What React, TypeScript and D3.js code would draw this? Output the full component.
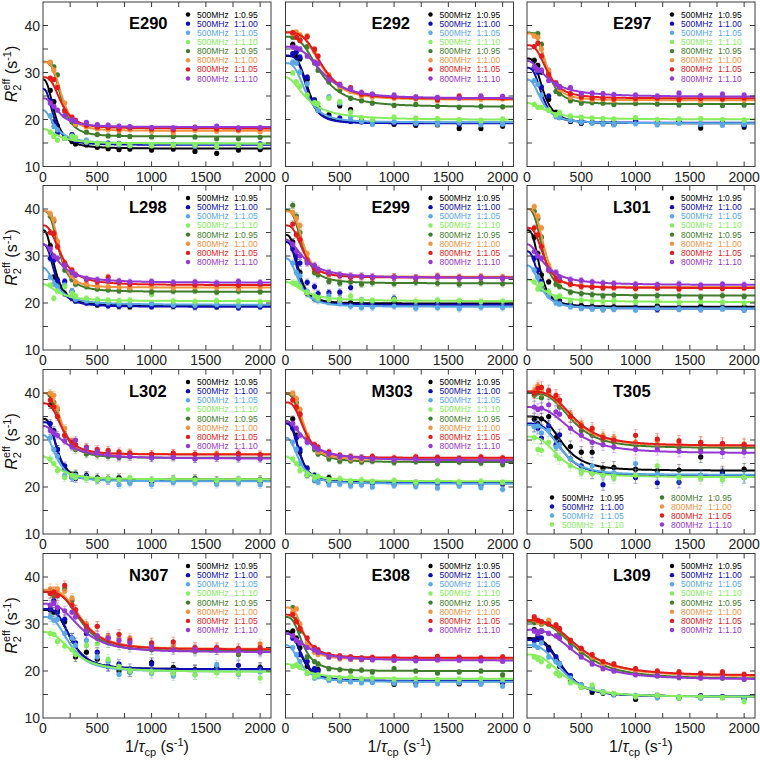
import React from "react";
import * as d3 from "d3";

// ---------- data ----------
const X_VALUES = [67, 100, 133, 200, 267, 300, 400, 500, 600, 700, 800, 1000, 1200, 1400, 1600, 1800, 2000];
const FIELDS = ["500MHz", "500MHz", "500MHz", "500MHz", "800MHz", "800MHz", "800MHz", "800MHz"];
const RATIOS = ["1:0.95", "1:1.00", "1:1.05", "1:1.10", "1:0.95", "1:1.00", "1:1.05", "1:1.10"];
const PANEL_NAMES = ["E290", "E292", "E297", "L298", "E299", "L301", "L302", "M303", "T305", "N307", "E308", "L309"];
const X_TICKS = [0, 500, 1000, 1500, 2000];
const Y_TICKS = [10, 20, 30, 40];
const PANEL_ERRORS = [0.4, 0.5, 0.5, 0.6, 0.7, 0.6, 0.8, 0.6, 1.2, 1.0, 0.5, 0.5];

// fits: [R2 plateau, R2 at 0, midpoint, steepness]
const E290_POINTS = [
  [26.2, 23.8, 18.6, 16.0, 15.3, 14.8, 14.6, 14.1, 13.8, 13.6, 13.7, 13.5, 13.7, 13.2, 12.8, 13.5, 13.6],
  [24.0, 19.5, 17.2, 16.2, 16.8, 15.6, 15.0, 14.8, 15.0, 14.9, 14.6, 14.4, 14.7, 14.5, 14.6, 14.4, 14.8],
  [20.8, 18.5, 17.8, 16.0, 16.5, 15.8, 15.6, 15.0, 14.7, 14.6, 14.4, 14.5, 14.6, 14.3, 14.2, 14.5, 14.2],
  [17.3, 16.4, 15.6, 16.0, 16.4, 16.2, 15.2, 14.8, 14.6, 14.8, 14.5, 14.4, 14.5, 14.6, 14.3, 14.5, 14.4],
  [32.0, 31.2, 29.5, 22.0, 19.5, 18.9, 17.3, 16.8, 16.5, 16.6, 16.4, 16.3, 16.4, 16.3, 15.9, 15.9, 16.2],
  [32.2, 30.5, 27.2, 23.5, 20.0, 19.0, 18.4, 18.0, 17.8, 17.6, 17.8, 17.5, 17.2, 17.7, 17.5, 17.6, 17.4],
  [28.8, 28.5, 26.8, 21.8, 20.5, 19.8, 18.8, 18.4, 18.3, 18.0, 18.2, 18.0, 17.8, 18.1, 18.0, 17.9, 18.1],
  [23.5, 22.8, 22.0, 20.8, 20.0, 19.6, 19.4, 18.9, 18.8, 18.6, 18.5, 18.3, 18.2, 18.4, 18.6, 18.2, 18.3],
];
const E290_FITS = [
  [13.8, 28.5, 110, 2.5], [14.6, 26.5, 100, 2.5], [14.8, 22, 120, 2], [14.9, 18, 150, 2],
  [16.4, 32.3, 170, 3.5], [17.6, 32.2, 175, 3.5], [18.1, 29, 170, 3], [18.4, 24.5, 150, 2.5],
];

const E292_POINTS = [
  [36.0, 33.4, 32.9, 28.5, 24.0, 22.6, 21.0, 22.9, 22.1, 19.8, 19.2, 19.0, 18.8, 18.9, 18.1, 18.1, 18.6],
  [34.0, 34.4, 33.3, 29.0, 24.2, 22.0, 20.5, 20.3, 19.6, 19.5, 19.4, 19.3, 19.1, 19.3, 19.0, 19.2, 19.1],
  [32.2, 32.0, 30.1, 27.6, 23.5, 22.0, 24.8, 23.5, 20.5, 19.6, 19.0, 19.5, 19.2, 19.0, 19.3, 18.9, 19.0],
  [29.9, 28.0, 27.1, 25.2, 23.6, 23.4, 24.5, 23.8, 21.6, 20.4, 20.0, 20.5, 20.3, 20.2, 20.0, 19.8, 20.1],
  [37.5, 37.8, 37.0, 35.5, 32.0, 30.5, 28.0, 26.2, 24.5, 24.0, 23.5, 23.0, 23.2, 22.8, 22.6, 22.8, 22.7],
  [38.3, 38.6, 38.0, 37.8, 34.5, 32.0, 29.5, 27.0, 26.0, 25.0, 24.8, 24.5, 24.4, 24.0, 24.6, 24.3, 24.4],
  [38.5, 37.5, 36.8, 37.6, 35.0, 33.5, 29.0, 27.5, 26.8, 25.4, 25.2, 24.8, 24.6, 24.2, 25.0, 24.8, 24.6],
  [35.4, 35.2, 35.0, 33.5, 32.2, 31.9, 28.5, 27.4, 26.5, 25.8, 25.4, 25.2, 24.8, 24.7, 24.6, 25.0, 24.9],
];
const E292_FITS = [
  [19.3, 33.5, 210, 4], [19.2, 33.6, 200, 4], [19.4, 32, 190, 3], [19.9, 29, 200, 2],
  [22.7, 37.6, 320, 3], [24.2, 38.6, 330, 3.5], [24.4, 38.5, 340, 3.5], [24.5, 35.5, 340, 3],
];

const E297_POINTS = [
  [32.6, 31.5, 30.1, 24.3, 21.5, 20.5, 19.6, 19.2, 19.4, 19.3, 19.0, 19.6, 19.3, 19.5, 18.2, 19.2, 18.4],
  [31.0, 30.1, 26.9, 25.0, 21.0, 20.5, 19.8, 19.6, 19.4, 19.3, 19.5, 19.8, 19.2, 19.4, 19.0, 19.3, 18.8],
  [28.3, 27.5, 25.2, 22.0, 20.6, 20.4, 19.8, 19.4, 19.2, 19.0, 18.9, 19.1, 18.9, 19.2, 19.0, 18.8, 19.0],
  [23.2, 22.6, 22.6, 22.0, 21.0, 21.5, 20.7, 20.5, 20.3, 20.2, 20.1, 20.4, 20.0, 20.1, 20.2, 20.0, 19.9],
  [38.0, 38.3, 36.0, 30.0, 26.0, 25.5, 24.0, 23.5, 23.6, 23.5, 23.2, 23.4, 23.3, 23.1, 23.2, 23.0, 23.1],
  [37.8, 37.5, 35.0, 30.5, 27.5, 26.5, 24.8, 24.4, 24.2, 24.3, 24.1, 24.2, 24.4, 24.1, 24.0, 24.3, 24.2],
  [35.5, 36.2, 33.5, 29.5, 27.8, 27.0, 25.5, 24.8, 24.6, 24.5, 24.4, 24.5, 24.6, 24.3, 24.5, 24.4, 24.6],
  [31.2, 30.5, 30.5, 28.3, 27.5, 26.9, 26.8, 25.5, 25.6, 25.5, 25.3, 25.2, 25.0, 25.6, 25.1, 25.4, 25.2],
];
const E297_FITS = [
  [19.2, 33, 150, 3], [19.3, 31, 140, 3], [19.2, 28.5, 140, 2.5], [20, 23.5, 200, 2],
  [23.3, 38.5, 185, 3.5], [24.1, 38.3, 185, 3.5], [24.5, 35.8, 190, 3], [24.8, 32.5, 200, 2],
];

const L298_POINTS = [
  [32.2, 25.5, 24.8, 22.0, 21.0, 20.5, 20.2, 19.6, 19.8, 19.4, 19.2, 19.5, 19.3, 19.6, 19.2, 19.4, 19.5],
  [29.5, 29.2, 24.8, 24.6, 22.5, 20.5, 20.0, 19.8, 19.4, 19.3, 19.5, 19.2, 19.4, 19.1, 19.3, 19.0, 19.2],
  [25.5, 24.0, 23.5, 23.8, 22.5, 20.8, 20.5, 20.2, 20.1, 19.8, 19.7, 19.9, 19.6, 19.5, 19.7, 19.4, 19.6],
  [23.8, 21.0, 22.5, 23.5, 22.0, 21.5, 21.0, 20.8, 20.6, 20.5, 20.6, 21.8, 20.4, 20.3, 20.5, 20.4, 20.3],
  [38.5, 37.5, 33.0, 27.0, 25.0, 24.0, 23.5, 23.0, 22.8, 22.6, 22.8, 22.4, 22.5, 22.6, 22.3, 22.5, 22.4],
  [39.0, 37.8, 33.0, 28.5, 25.8, 24.5, 24.0, 23.6, 23.5, 23.4, 23.3, 23.5, 23.2, 23.4, 23.3, 23.1, 23.4],
  [35.0, 34.8, 32.0, 28.5, 27.0, 26.0, 25.0, 24.5, 25.5, 24.4, 24.0, 24.2, 24.1, 23.9, 24.0, 23.8, 24.0],
  [31.5, 30.0, 29.5, 28.0, 26.5, 26.0, 25.2, 25.0, 24.8, 24.7, 24.5, 24.6, 24.4, 24.5, 24.3, 24.6, 24.4],
];
const L298_FITS = [
  [19.4, 35.5, 110, 2.5], [19.2, 32.5, 115, 2.5], [19.6, 27.5, 130, 2], [20.4, 24, 150, 2],
  [22.4, 39.6, 150, 3], [23.3, 39.6, 155, 3.5], [23.8, 36.5, 170, 2.5], [24.3, 32.5, 160, 2],
];

const E299_POINTS = [
  [33.0, 30.0, 26.5, 22.0, 20.9, 21.0, 20.3, 20.8, 20.1, 19.9, 20.0, 20.1, 19.8, 20.0, 19.9, 19.7, 20.0],
  [31.5, 30.0, 28.5, 24.4, 23.5, 22.0, 22.2, 22.3, 23.3, 20.5, 20.2, 21.0, 19.9, 20.3, 19.8, 20.0, 19.6],
  [28.5, 26.5, 25.8, 22.5, 21.0, 20.5, 21.5, 20.0, 19.3, 19.0, 19.1, 19.3, 18.9, 19.0, 18.8, 19.1, 19.0],
  [24.3, 24.2, 23.5, 22.2, 21.6, 21.0, 20.7, 20.8, 21.5, 20.6, 20.5, 20.8, 20.4, 20.6, 20.5, 20.3, 20.4],
  [40.8, 38.5, 35.0, 29.0, 26.5, 26.0, 24.6, 24.2, 24.5, 24.0, 24.3, 24.1, 24.4, 24.2, 24.0, 24.3, 24.1],
  [39.3, 38.0, 36.5, 30.5, 27.8, 26.8, 26.0, 25.8, 25.6, 25.7, 25.5, 25.6, 25.4, 25.7, 25.5, 25.6, 25.5],
  [36.8, 34.5, 33.5, 29.0, 27.3, 26.8, 26.3, 25.8, 25.5, 25.6, 25.4, 25.5, 25.3, 25.6, 25.4, 25.5, 25.3],
  [32.5, 31.0, 30.0, 28.5, 28.0, 27.2, 26.5, 26.0, 25.8, 25.7, 25.6, 25.5, 25.4, 25.6, 25.3, 25.4, 25.2],
];
const E299_FITS = [
  [19.9, 34.5, 120, 3], [19.6, 33, 120, 3], [19.2, 29.5, 130, 2.5], [20.4, 24.5, 180, 2],
  [24.2, 39.8, 160, 3], [25.6, 39.5, 165, 3.5], [25.4, 36.5, 165, 3], [25.3, 33.5, 180, 2],
];

const L301_POINTS = [
  [34.0, 30.5, 26.0, 24.5, 20.8, 20.5, 19.8, 19.5, 19.3, 19.0, 19.2, 19.1, 19.4, 19.0, 19.3, 19.1, 19.2],
  [29.5, 27.0, 24.5, 22.0, 21.0, 20.0, 19.5, 19.0, 18.9, 18.7, 18.8, 18.9, 18.6, 18.8, 18.7, 18.9, 18.6],
  [27.0, 25.5, 23.0, 21.5, 20.0, 19.8, 19.2, 18.9, 18.8, 18.6, 18.7, 18.5, 18.9, 18.7, 18.6, 18.8, 18.5],
  [24.5, 23.0, 24.0, 22.5, 21.2, 21.5, 20.5, 20.6, 20.4, 20.3, 20.5, 20.2, 20.4, 20.1, 20.3, 20.2, 20.0],
  [39.5, 38.0, 34.0, 27.5, 24.0, 23.5, 22.3, 22.0, 21.8, 21.5, 21.7, 21.4, 21.6, 21.5, 21.3, 21.6, 21.4],
  [40.5, 38.5, 36.0, 28.0, 25.5, 24.8, 24.0, 23.6, 23.5, 23.4, 23.3, 23.5, 23.2, 23.4, 23.3, 23.5, 23.3],
  [36.0, 34.5, 32.0, 27.0, 25.2, 24.8, 24.0, 23.5, 23.4, 23.2, 23.3, 23.1, 23.2, 23.0, 23.3, 23.1, 23.2],
  [31.0, 30.0, 29.5, 27.0, 26.5, 25.5, 25.0, 24.8, 24.5, 24.3, 24.2, 24.0, 23.9, 24.1, 23.8, 24.0, 23.9],
];
const L301_FITS = [
  [19.2, 35.5, 120, 3], [18.8, 31, 120, 2.5], [18.8, 28, 130, 2.5], [20.2, 25, 160, 2],
  [21.6, 40, 150, 3], [23.4, 40, 160, 3.5], [23.2, 36, 160, 3], [23.8, 32.5, 170, 2],
];

const L302_POINTS = [
  [37.5, 32.0, 28.0, 24.0, 22.5, 22.8, 22.5, 22.0, 21.8, 22.0, 21.5, 21.3, 21.6, 21.8, 21.4, 21.2, 21.6],
  [33.5, 31.5, 28.0, 24.5, 22.0, 21.8, 22.3, 21.5, 21.4, 21.5, 21.2, 21.0, 21.3, 21.5, 21.1, 21.4, 21.0],
  [30.5, 28.0, 26.5, 22.5, 22.0, 22.5, 21.8, 21.5, 21.3, 20.5, 20.8, 20.5, 21.0, 20.8, 20.6, 20.9, 20.5],
  [26.0, 25.0, 23.5, 22.0, 22.5, 22.0, 21.8, 21.5, 21.8, 21.6, 22.0, 21.5, 21.8, 21.6, 21.4, 21.7, 21.5],
  [39.5, 38.0, 36.5, 31.0, 29.0, 28.0, 27.0, 26.8, 26.5, 26.3, 26.5, 26.2, 26.4, 26.0, 26.3, 26.1, 26.2],
  [40.0, 39.5, 36.8, 32.5, 29.8, 28.5, 28.0, 27.2, 27.5, 27.0, 27.3, 27.0, 27.2, 26.9, 27.1, 27.0, 26.8],
  [38.5, 37.0, 35.0, 31.0, 29.5, 29.0, 28.5, 28.0, 27.8, 27.5, 27.2, 27.0, 27.2, 27.0, 26.8, 27.1, 26.9],
  [32.0, 31.5, 31.0, 29.8, 28.5, 30.0, 28.3, 27.5, 27.0, 26.5, 26.5, 26.2, 26.3, 26.0, 26.2, 26.1, 26.0],
];
const L302_FITS = [
  [21.6, 34.5, 130, 3], [21.5, 33.8, 135, 3.5], [21.2, 31, 130, 2.5], [21.6, 26.5, 140, 2],
  [26.2, 40, 170, 3], [27, 40, 175, 3.5], [26.9, 37.8, 180, 3], [26, 33, 200, 2],
];

const M303_POINTS = [
  [34.5, 31.0, 27.5, 22.5, 21.5, 21.8, 22.0, 21.2, 21.0, 20.8, 21.0, 20.7, 20.9, 21.0, 20.6, 20.8, 20.7],
  [32.5, 30.5, 28.0, 24.0, 22.5, 22.0, 21.0, 21.2, 20.9, 21.0, 20.8, 20.9, 20.6, 20.8, 20.7, 20.5, 20.8],
  [29.5, 28.0, 25.0, 23.0, 21.5, 21.0, 20.5, 20.6, 20.2, 20.4, 20.0, 20.3, 20.1, 19.8, 20.2, 19.9, 19.5],
  [26.0, 25.0, 23.5, 22.5, 22.0, 22.3, 21.5, 21.8, 21.3, 21.5, 21.2, 21.4, 21.0, 21.3, 21.1, 21.2, 21.0],
  [39.5, 38.0, 35.5, 30.5, 28.0, 27.0, 26.0, 25.5, 25.6, 25.3, 25.5, 25.2, 25.4, 25.0, 25.3, 25.1, 24.8],
  [40.0, 38.8, 36.5, 31.0, 28.5, 27.5, 26.8, 26.3, 26.0, 25.8, 26.0, 25.9, 26.1, 25.8, 26.0, 25.9, 26.0],
  [38.5, 37.0, 35.5, 30.0, 29.0, 28.5, 27.5, 26.8, 26.5, 26.3, 26.5, 26.2, 26.4, 26.3, 26.1, 26.4, 26.2],
  [33.5, 32.5, 31.0, 29.5, 28.5, 28.0, 27.0, 26.5, 26.3, 26.2, 26.0, 25.8, 25.9, 25.6, 25.8, 25.7, 25.5],
];
const M303_FITS = [
  [20.9, 34, 130, 3], [20.9, 33.5, 130, 3], [20.7, 30.5, 130, 2.5], [21.2, 26.5, 150, 2],
  [25.3, 39.8, 170, 3], [25.9, 40, 175, 3.5], [26.2, 38, 175, 3], [25.6, 34, 200, 2],
];

const T305_POINTS = [
  [34.4, 33.5, 34.5, 35.0, 30.5, 29.5, 28.6, 27.4, 27.4, 24.0, 24.2, 23.8, 23.5, 23.6, 26.4, 23.2, 23.8],
  [33.0, 32.5, 30.4, 33.0, 29.0, 31.1, 26.0, 24.5, 23.0, 20.5, 22.5, 22.0, 20.9, 21.0, 22.5, 22.8, 22.0],
  [32.8, 33.0, 31.5, 32.0, 28.5, 29.0, 26.0, 23.5, 24.5, 22.5, 23.0, 25.0, 22.8, 22.3, 22.5, 22.0, 22.3],
  [30.5, 28.0, 27.8, 29.5, 26.7, 26.0, 24.5, 23.0, 22.8, 22.5, 21.9, 22.5, 24.5, 22.0, 21.8, 21.5, 22.0],
  [39.5, 40.0, 39.0, 39.8, 38.5, 37.0, 35.0, 32.0, 31.0, 30.0, 29.5, 29.0, 28.8, 28.5, 28.2, 28.4, 28.3],
  [40.5, 41.5, 40.5, 40.0, 39.0, 38.0, 35.5, 33.5, 32.0, 31.0, 30.5, 29.5, 29.8, 29.2, 29.5, 29.0, 29.2],
  [40.0, 41.0, 41.2, 40.5, 39.5, 38.5, 35.0, 33.0, 32.5, 30.5, 30.0, 31.0, 30.2, 29.8, 29.5, 29.3, 29.0],
  [37.0, 36.5, 36.8, 37.5, 36.0, 35.5, 32.5, 31.0, 29.5, 29.0, 28.5, 28.0, 28.0, 27.6, 27.5, 27.3, 27.4],
];
const T305_FITS = [
  [23.5, 35, 330, 3.5], [22.4, 33.5, 320, 3.5], [22.6, 33.2, 320, 3.5], [22.1, 30.7, 300, 3],
  [28.3, 40, 420, 3.5], [28.7, 40.3, 430, 3.5], [28.8, 40.3, 440, 3.5], [27.2, 37, 420, 3],
];

const N307_POINTS = [
  [33.0, 32.5, 33.0, 30.5, 27.0, 23.0, 24.0, 22.5, 21.0, 20.0, 19.8, 21.8, 20.8, 20.3, 20.5, 20.0, 20.8],
  [33.2, 35.0, 32.5, 31.0, 27.0, 26.0, 28.0, 24.0, 21.0, 21.5, 20.5, 21.5, 19.5, 20.2, 20.8, 21.2, 20.5],
  [31.5, 30.8, 31.0, 28.0, 27.0, 25.5, 26.5, 23.0, 22.0, 19.3, 19.8, 19.5, 19.0, 19.2, 21.3, 19.3, 19.8],
  [28.0, 27.8, 26.3, 25.3, 24.5, 23.5, 25.5, 25.8, 22.5, 21.0, 20.0, 19.8, 19.5, 19.2, 19.6, 19.5, 18.5],
  [36.5, 36.0, 36.5, 37.5, 35.0, 32.5, 29.0, 27.0, 26.0, 25.5, 25.0, 24.5, 24.8, 24.2, 24.5, 23.5, 24.3],
  [37.5, 37.0, 37.5, 37.0, 35.5, 33.0, 30.0, 29.5, 27.5, 27.0, 27.0, 25.8, 25.5, 25.0, 24.8, 24.5, 25.8],
  [36.5, 36.8, 36.0, 38.2, 34.0, 33.0, 29.5, 29.5, 27.0, 27.8, 26.5, 26.0, 26.2, 25.0, 25.0, 24.8, 25.0],
  [34.0, 34.5, 33.5, 32.8, 32.5, 31.5, 28.5, 27.5, 27.0, 26.5, 26.0, 25.2, 24.5, 24.6, 24.5, 24.3, 24.0],
];
const N307_FITS = [
  [20.4, 33, 260, 3.5], [20.4, 33.2, 260, 3.5], [19.9, 31.5, 250, 3], [19.8, 28.3, 280, 2.5],
  [24.2, 37, 350, 3.5], [24.7, 37.3, 360, 3.5], [24.6, 36.8, 360, 3.5], [24, 34.3, 350, 3],
];

const E308_POINTS = [
  [28.5, 27.0, 25.0, 21.0, 20.0, 20.3, 18.5, 18.0, 17.9, 17.8, 17.7, 17.2, 17.5, 17.8, 17.3, 17.6, 17.5],
  [27.0, 26.5, 23.5, 22.0, 20.5, 20.0, 18.5, 18.3, 18.0, 17.8, 18.0, 17.6, 17.8, 17.9, 17.7, 17.8, 17.6],
  [25.0, 23.5, 22.0, 19.5, 18.5, 18.8, 18.0, 17.9, 17.7, 17.5, 17.6, 17.4, 17.0, 17.3, 17.5, 17.2, 16.8],
  [21.0, 21.3, 20.8, 19.5, 18.8, 19.2, 18.5, 18.6, 18.8, 18.4, 18.5, 18.3, 18.4, 18.2, 18.3, 18.4, 18.3],
  [33.5, 31.0, 28.5, 23.0, 22.0, 21.5, 20.5, 20.3, 20.0, 20.2, 19.8, 20.5, 20.0, 19.6, 19.8, 20.0, 19.2],
  [32.5, 33.2, 30.0, 26.0, 24.0, 23.5, 23.0, 22.6, 22.5, 22.4, 22.6, 22.3, 22.5, 22.4, 22.6, 22.3, 22.5],
  [32.0, 30.5, 29.0, 27.0, 25.0, 24.5, 23.5, 23.2, 23.0, 22.8, 22.9, 23.0, 22.8, 23.1, 22.9, 22.8, 23.0],
  [27.5, 26.5, 26.0, 25.0, 24.5, 24.0, 23.0, 22.8, 22.6, 22.5, 22.4, 22.3, 22.2, 22.4, 22.3, 22.2, 22.1],
];
const E308_FITS = [
  [17.8, 28.5, 150, 3], [17.9, 28, 160, 3], [17.7, 25.5, 140, 2.5], [18.3, 21.5, 200, 2],
  [20, 31.5, 160, 3], [22.5, 33.5, 170, 3.5], [22.8, 32, 180, 3], [22.2, 28, 200, 2],
];

const L309_POINTS = [
  [28.8, 27.0, 28.5, 25.0, 22.5, 21.0, 17.9, 16.6, 15.5, 15.3, 15.0, 14.0, 14.5, 14.3, 14.6, 14.5, 14.3],
  [26.5, 27.5, 27.0, 24.5, 23.0, 21.5, 19.0, 17.0, 16.0, 15.5, 15.0, 14.5, 14.8, 14.3, 14.7, 14.5, 14.2],
  [25.5, 25.0, 26.0, 23.0, 22.0, 21.5, 18.5, 17.0, 16.5, 15.5, 15.0, 14.8, 14.3, 14.5, 14.2, 14.4, 14.0],
  [23.0, 22.5, 22.0, 21.0, 19.5, 19.0, 17.5, 16.5, 17.0, 15.5, 15.2, 14.5, 14.8, 14.2, 14.5, 14.3, 13.5],
  [30.3, 30.5, 30.0, 30.5, 29.5, 28.0, 26.0, 24.0, 22.5, 21.0, 20.3, 19.5, 19.0, 18.6, 18.7, 18.5, 18.3],
  [31.0, 30.5, 30.2, 30.8, 29.5, 28.8, 26.5, 24.5, 23.0, 21.5, 21.2, 20.0, 19.8, 19.3, 19.2, 19.5, 19.0],
  [31.5, 30.8, 30.5, 30.0, 29.8, 29.0, 26.5, 24.8, 23.5, 22.0, 21.5, 20.5, 20.0, 19.8, 19.5, 19.8, 19.3],
  [28.5, 28.0, 28.5, 28.0, 27.5, 27.0, 25.0, 23.0, 21.5, 20.5, 20.0, 19.2, 19.0, 18.7, 18.5, 18.6, 18.3],
];
const L309_FITS = [
  [14.6, 27, 330, 3.5], [14.6, 26.6, 330, 3.5], [14.5, 25.5, 330, 3], [14.5, 23.5, 340, 2.8],
  [18.3, 30.5, 480, 3], [18.8, 30.8, 490, 3], [19, 30.8, 490, 3], [18.2, 28.8, 470, 3],
];

const ALL_POINTS = [E290_POINTS, E292_POINTS, E297_POINTS, L298_POINTS, E299_POINTS, L301_POINTS,
  L302_POINTS, M303_POINTS, T305_POINTS, N307_POINTS, E308_POINTS, L309_POINTS];
const ALL_FITS = [E290_FITS, E292_FITS, E297_FITS, L298_FITS, E299_FITS, L301_FITS,
  L302_FITS, M303_FITS, T305_FITS, N307_FITS, E308_FITS, L309_FITS];

// ---------- style ----------
const COLORS = ["#000000", "#0c0cb4", "#5aa8e4", "#86ee5c", "#3f7d2c", "#f0933e", "#e21b1b", "#9538d2"];
const FONT = "'Liberation Sans', Arial, Helvetica, sans-serif";

function fitValue(x: number, p: number[]) {
  const [rinf, r0, x0, n] = p;
  return rinf + (r0 - rinf) / (1 + Math.pow(x / x0, n));
}

export default function App() {
  const W = 760, H = 765;
  const lefts = [43, 285.5, 527];
  const tops = [2, 185.5, 369.5, 553.5];
  const pw = 228, ph = 164.5;
  const fitXs = d3.range(0, 2101, 5);
  const xMinor = d3.range(250, 2100, 250);
  const yMinor = d3.range(15, 45, 5);

  return (
    <svg width={W} height={H} style={{ position: "absolute", left: 0, top: 0, background: "#fff" }} fontFamily={FONT}>
      <defs>
        {PANEL_NAMES.map((_, pi) => {
          const L = lefts[pi % 3], T = tops[Math.floor(pi / 3)];
          return (
            <clipPath id={`clip${pi}`} key={pi}>
              <rect x={L} y={T} width={pw} height={ph} />
            </clipPath>
          );
        })}
      </defs>
      {PANEL_NAMES.map((name, pi) => {
        const col = pi % 3, row = Math.floor(pi / 3);
        const L = lefts[col], T = tops[row];
        const x = d3.scaleLinear().domain([0, 2100]).range([L, L + pw]);
        const y = d3.scaleLinear().domain([10, 45]).range([T + ph, T]);
        const pts = ALL_POINTS[pi];
        const fits = ALL_FITS[pi];
        const err = PANEL_ERRORS[pi];
        const isT305 = name === "T305";
        return (
          <g key={name}>
            <g clipPath={`url(#clip${pi})`}>
              {pts.map((series, si) => (
                <g key={si}>
                  {series.map((v, i) => {
                    const cx = x(X_VALUES[i]);
                    return (
                      <g key={i}>
                        <line x1={cx} x2={cx} y1={y(v - err)} y2={y(v + err)} stroke={COLORS[si]} strokeOpacity={0.45} strokeWidth={0.8} />
                        <line x1={cx - 2} x2={cx + 2} y1={y(v - err)} y2={y(v - err)} stroke={COLORS[si]} strokeOpacity={0.45} strokeWidth={0.8} />
                        <line x1={cx - 2} x2={cx + 2} y1={y(v + err)} y2={y(v + err)} stroke={COLORS[si]} strokeOpacity={0.45} strokeWidth={0.8} />
                        <circle cx={cx} cy={y(v)} r={2.6} fill={COLORS[si]} />
                      </g>
                    );
                  })}
                  <path
                    d={d3.line<number>().x((d) => x(d)).y((d) => y(fitValue(d, fits[si])))(fitXs) || ""}
                    fill="none"
                    stroke={COLORS[si]}
                    strokeWidth={2}
                  />
                </g>
              ))}
            </g>
            <rect x={L} y={T} width={pw} height={ph} fill="none" stroke="#3a3a3a" strokeWidth={1} />
            {xMinor.map((t) => (
              <g key={`xt${t}`}>
                <line x1={x(t)} x2={x(t)} y1={T + ph} y2={T + ph - 5} stroke="#3a3a3a" />
                <line x1={x(t)} x2={x(t)} y1={T} y2={T + 5} stroke="#3a3a3a" />
              </g>
            ))}
            {yMinor.map((t) => (
              <g key={`yt${t}`}>
                <line x1={L} x2={L + 5} y1={y(t)} y2={y(t)} stroke="#3a3a3a" />
                <line x1={L + pw} x2={L + pw - 5} y1={y(t)} y2={y(t)} stroke="#3a3a3a" />
              </g>
            ))}
            {X_TICKS.map((t) => (
              <text key={`xl${t}`} x={x(t)} y={T + ph + 15} fontSize={14} textAnchor="middle" fill="#222">
                {t}
              </text>
            ))}
            {col === 0 &&
              Y_TICKS.map((t) => (
                <text key={`yl${t}`} x={L - 3} y={y(t) + 5} fontSize={14} textAnchor="end" fill="#222">
                  {t}
                </text>
              ))}
            <text x={L + 86} y={T + 27} fontSize={16.5} fontWeight="bold" fill="#000">
              {name}
            </text>
            {FIELDS.map((f, si) => {
              let cy: number, mx: number, tx: number, rx: number;
              if (isT305) {
                const c = Math.floor(si / 4);
                cy = T + 128 + (si % 4) * 9;
                mx = L + (c === 0 ? 25 : 135);
                tx = L + (c === 0 ? 35 : 144);
                rx = L + (c === 0 ? 73 : 181);
              } else {
                cy = T + 12.5 + si * 9.15;
                mx = L + 145;
                tx = L + 154;
                rx = L + 191;
              }
              return (
                <g key={`lg${si}`}>
                  <circle cx={mx} cy={cy} r={2.2} fill={COLORS[si]} />
                  <text x={tx} y={cy + 3} fontSize={8.5} fill={COLORS[si]}>
                    {f}
                  </text>
                  <text x={rx} y={cy + 3} fontSize={8.5} fill={COLORS[si]}>
                    {RATIOS[si]}
                  </text>
                </g>
              );
            })}
            {col === 0 && (
              <text transform={`translate(16.5, ${T + 72}) rotate(-90)`} textAnchor="middle" fontSize={16} fill="#111">
                <tspan fontStyle="italic">R</tspan>
                <tspan fontSize={11} dy={4}>2</tspan>
                <tspan fontSize={11} dx={-6} dy={-11}>eff</tspan>
                <tspan dy={7}>{" (s"}</tspan>
                <tspan fontSize={11} dy={-6}>-1</tspan>
                <tspan dy={6}>)</tspan>
              </text>
            )}
            {row === 3 && (
              <text x={L + 114} y={752} textAnchor="middle" fontSize={16} fill="#111">
                1/<tspan fontStyle="italic">τ</tspan>
                <tspan fontSize={11} dy={4}>cp</tspan>
                <tspan dy={-4}>{" (s"}</tspan>
                <tspan fontSize={11} dy={-6}>-1</tspan>
                <tspan dy={6}>)</tspan>
              </text>
            )}
          </g>
        );
      })}
    </svg>
  );
}
